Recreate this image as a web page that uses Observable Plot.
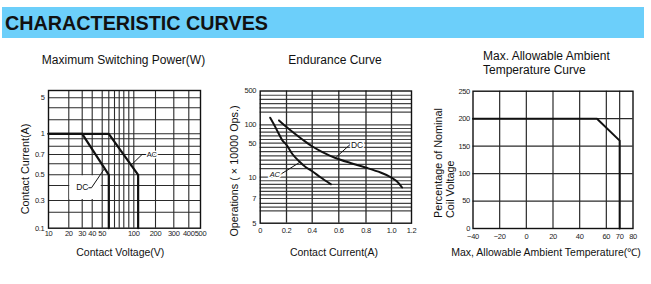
<!DOCTYPE html>
<html>
<head>
<meta charset="utf-8">
<script src="https://cdn.jsdelivr.net/npm/d3@7"></script>
<script src="https://cdn.jsdelivr.net/npm/@observablehq/plot@0.6"></script>
<style>
  html, body { margin: 0; padding: 0; background: #fff; }
  #page { position: relative; width: 651px; height: 284px; overflow: hidden;
          font-family: "Liberation Sans", Arial, sans-serif; color: #111; }
  #banner { position: absolute; left: 2px; top: 7px; width: 642px; height: 31px; background: #6ccffa; }
  #banner-text { position: absolute; left: 3px; top: 50%; transform-origin: left center;
                 font-weight: bold; font-size: 20px; line-height: 1; color: #111; white-space: nowrap; }
  .lbl { position: absolute; white-space: nowrap; line-height: 1; }
  .chart { position: absolute; }
  .chart svg { overflow: visible; }
</style>
</head>
<body>
<div id="page">
  <div id="banner"><span id="banner-text">CHARACTERISTIC CURVES</span></div>
</div>
<script>
// ---------- Maximum switching power ----------
const voltTicks = [10, 20, 30, 40, 50, 100, 200, 300, 400, 500];
const voltGrid = [20, 30, 40, 50, 60, 70, 80, 90, 95, 100, 200, 300, 400];
const currentTicks = [0.1, 0.3, 0.5, 0.7, 1, 5];
const currentGrid = [0.2, 0.3, 0.4, 0.5, 0.6, 0.7, 0.8, 0.9, 1, 2, 3, 5];
const dcVoltage = [10, 30, 60, 60];
const dcCurrent = [1, 1, 0.5, 0.1];
const acVoltage = [10, 60, 120, 120];
const acCurrent = [1, 1, 0.5, 0.1];
const dcLeaderV = [36.6, 39.3, 53.5];
const dcLeaderA = [0.385, 0.385, 0.557];
const acLeaderV = [97, 138, 156];
const acLeaderA = [0.585, 0.7, 0.7];

// ---------- Endurance ----------
const ampTicks = [0, 0.2, 0.4, 0.6, 0.8, 1.0, 1.2];
const ampGrid = [0.2, 0.4, 0.6, 0.8, 1.0];
const opsTicks = [5, 7, 10, 50, 100, 500];
const opsGrid = [450, 400, 350, 300, 250, 100, 90, 80, 70, 60, 50, 45, 40, 35, 30, 25, 20,
                 10, 9.5, 9, 8.5, 8, 7.5, 7, 6.6, 6.3, 6];
const acAmp = [0.076, 0.109, 0.139, 0.17, 0.2, 0.247, 0.296, 0.348, 0.4, 0.462, 0.541];
const acOps = [184, 98, 77, 57, 48, 37, 29, 22, 17, 10, 9.0];
const dcAmp = [0.143, 0.2, 0.258, 0.324, 0.395, 0.477, 0.575, 0.686, 0.796, 0.914, 0.992, 1.05, 1.106];
const dcOps = [152, 94, 77.7, 60, 46.7, 39.6, 32.6, 26.7, 21.4, 15.5, 10.2, 9.46, 8.55];
const dcNoteAmp = [0.583, 0.68];
const dcNoteOps = [34, 48];
const acNoteAmp = [0.301, 0.154];
const acNoteOps = [27.3, 13.3];

// ---------- Max. allowable ambient temperature ----------
const tempTicks = [-40, -20, 0, 20, 40, 60, 70, 80];
const tempGrid = [-20, 0, 20, 40, 60, 70];
const pctTicks = [0, 50, 100, 150, 200, 250];
const pctGrid = [50, 100, 150, 200];
const tempC = [-40, 53, 70, 70];
const coilPct = [200, 200, 160, 0];

// ---------- text ----------
const titles = ["Maximum Switching Power(W)", "Endurance Curve", "Max. Allowable Ambient", "Temperature Curve"];
const axisTitles = ["Contact Current(A)", "Contact Voltage(V)", "Operations ( \u00d7 10000 Ops.)",
                    "Contact Current(A)", "Percentage of Nominal", "Coil Voltage",
                    "Max, Allowable Ambient Temperature(\u2103)"];

// The printed graph paper is not evenly ruled, so the first two charts use
// piecewise scales: each knot value is pinned to its ruled line (px inside the svg).
const voltKnots = [10, 20, 30, 40, 50, 60, 70, 80, 90, 100, 200, 300, 400, 500];
const voltKnotPx = [48, 68.3, 81.7, 91.7, 101.7, 108.3, 114, 118.7, 123.3, 133.3, 155, 173.3, 188.3, 200];
const currentKnots = [0.1, 0.2, 0.3, 0.4, 0.5, 0.6, 0.7, 0.8, 0.9, 1, 2, 3, 5, 10];
const currentKnotPx = [147.7, 131.7, 120, 105, 94.3, 83.3, 74, 65.7, 58.3, 53.3, 39.3, 27.3, 17.3, 10];
const ampKnotPx = [44.7, 71, 96.7, 123.3, 150.5, 176, 196];
const opsKnots = [5, 7, 10, 50, 100, 500];
const opsKnotPx = [142.7, 118, 96.7, 62.7, 44.3, 10.5];

const page = document.getElementById("page");
const INK = "#111", GRID = "#2a2a2a";
const baseStyle = {fontFamily: "'Liberation Sans', Arial, sans-serif", fontSize: "7.5px",
                   letterSpacing: "-0.3px", color: "#222", background: "transparent"};
const fmt = d => (d < 0 ? "\u2212" + (-d) : String(d));
const pts = (xs, ys) => xs.map((x, i) => ({x, y: ys[i]}));

function mount(svg, left, top) {
  const div = document.createElement("div");
  div.className = "chart";
  div.style.left = left + "px";
  div.style.top = top + "px";
  div.appendChild(svg);
  page.appendChild(div);
}

function label(text, cx, cy, size, rotate) {
  const el = document.createElement("div");
  el.className = "lbl";
  el.textContent = text;
  el.style.left = cx + "px";
  el.style.top = cy + "px";
  el.style.fontSize = size + "px";
  el.style.transform = "translate(-50%,-50%)" + (rotate ? " rotate(-90deg)" : "");
  page.appendChild(el);
  return el;
}

// Chart 1
mount(Plot.plot({
  width: 215, height: 160,
  marginLeft: 48, marginRight: 15, marginTop: 10, marginBottom: 12.3,
  style: baseStyle,
  x: {type: "linear", domain: voltKnots, range: voltKnotPx, ticks: voltTicks, tickFormat: fmt,
      tickSize: 0, tickPadding: 2.5, label: null},
  y: {type: "linear", domain: currentKnots, range: currentKnotPx, ticks: currentTicks, tickFormat: fmt,
      tickSize: 0, tickPadding: 4, label: null},
  marks: [
    Plot.ruleX(voltGrid, {stroke: GRID, strokeWidth: 1.1}),
    Plot.ruleY(currentGrid, {stroke: GRID, strokeWidth: 1.1}),
    Plot.rect([{x1: 20, x2: 50, y1: 0.3, y2: 0.5}], {x1: "x1", x2: "x2", y1: "y1", y2: "y2", fill: "white", inset: 1}),
    Plot.line(pts(dcVoltage, dcCurrent), {x: "x", y: "y", stroke: INK, strokeWidth: 2.2}),
    Plot.line(pts(acVoltage, acCurrent), {x: "x", y: "y", stroke: INK, strokeWidth: 2.2}),
    Plot.line(pts(dcLeaderV, dcLeaderA), {x: "x", y: "y", stroke: INK, strokeWidth: 1}),
    Plot.line(pts(acLeaderV, acLeaderA), {x: "x", y: "y", stroke: INK, strokeWidth: 1}),
    Plot.text([{x: 30, y: 0.385, t: "DC"}], {x: "x", y: "y", text: "t", fontSize: 8.5, fill: INK}),
    Plot.text([{x: 160, y: 0.7, t: "AC"}], {x: "x", y: "y", text: "t", fontSize: 7.5, fill: INK,
      textAnchor: "start", stroke: "white", strokeWidth: 3, paintOrder: "stroke"}),
    Plot.frame({stroke: INK, strokeWidth: 1.4})
  ]
}), 0, 80);

// Chart 2
mount(Plot.plot({
  width: 215, height: 160,
  marginLeft: 44.7, marginRight: 19, marginTop: 10.5, marginBottom: 17.3,
  style: baseStyle,
  x: {type: "linear", domain: ampTicks, range: ampKnotPx, ticks: ampTicks,
      tickFormat: d => (d === 0 ? "0" : d.toFixed(1)), tickSize: 0, tickPadding: 4.5, label: null},
  y: {type: "linear", domain: opsKnots, range: opsKnotPx, ticks: opsTicks, tickFormat: fmt,
      tickSize: 0, tickPadding: 4, label: null},
  marks: [
    Plot.ruleY(opsGrid, {stroke: "#444", strokeWidth: 1.2}),
    Plot.ruleX(ampGrid, {stroke: GRID, strokeWidth: 1.3}),
    Plot.line(pts(acAmp, acOps), {x: "x", y: "y", stroke: INK, strokeWidth: 2, curve: "catmull-rom"}),
    Plot.line(pts(dcAmp, dcOps), {x: "x", y: "y", stroke: INK, strokeWidth: 2, curve: "catmull-rom"}),
    Plot.line(pts(dcNoteAmp, dcNoteOps), {x: "x", y: "y", stroke: INK, strokeWidth: 1}),
    Plot.line(pts(acNoteAmp, acNoteOps), {x: "x", y: "y", stroke: INK, strokeWidth: 1}),
    Plot.text([{x: 0.69, y: 48, t: "DC"}], {x: "x", y: "y", text: "t", fontSize: 8.5, fill: INK,
      textAnchor: "start", stroke: "white", strokeWidth: 3, paintOrder: "stroke"}),
    Plot.text([{x: 0.148, y: 13.3, t: "AC"}], {x: "x", y: "y", text: "t", fontSize: 7.5, fill: INK,
      textAnchor: "end", stroke: "white", strokeWidth: 3, paintOrder: "stroke", fontStyle: "italic"}),
    Plot.frame({stroke: INK, strokeWidth: 1.4})
  ]
}), 215, 80);

// Chart 3
mount(Plot.plot({
  width: 221, height: 160,
  marginLeft: 42.5, marginRight: 18.5, marginTop: 10.7, marginBottom: 12,
  style: baseStyle,
  x: {domain: [-40, 80], ticks: tempTicks, tickFormat: fmt, tickSize: 0, tickPadding: 5.5, label: null},
  y: {domain: [0, 250], ticks: pctTicks, tickFormat: fmt, tickSize: 0, tickPadding: 3, label: null},
  marks: [
    Plot.ruleX(tempGrid, {stroke: GRID, strokeWidth: 1.2}),
    Plot.ruleY(pctGrid, {stroke: GRID, strokeWidth: 1.2}),
    Plot.line(pts(tempC, coilPct), {x: "x", y: "y", stroke: INK, strokeWidth: 2}),
    Plot.frame({stroke: INK, strokeWidth: 1.4})
  ]
}), 430, 80);

// Titles and axis titles
label(titles[0], 123.5, 59.5, 12);
label(titles[1], 335, 59.5, 12);
const t3a = label(titles[2], 0, 56, 12); t3a.style.left = "483px"; t3a.style.transform = "translateY(-50%)";
const t3b = label(titles[3], 0, 69.5, 12); t3b.style.left = "483px"; t3b.style.transform = "translateY(-50%)";
label(axisTitles[0], 24.5, 169, 10.8, true);
label(axisTitles[1], 120.3, 252.3, 10.5);
label(axisTitles[2], 233.7, 170.5, 10.8, true);
label(axisTitles[3], 334, 252.3, 10.5);
label(axisTitles[6], 546, 252.3, 10.5);
// two-line rotated title, both lines starting at the same point
const yt = document.createElement("div");
yt.className = "lbl";
yt.style.cssText += "left:432.5px;top:218.3px;font-size:10.8px;line-height:11.7px;transform-origin:top left;transform:rotate(-90deg);text-align:left;";
yt.innerHTML = axisTitles[4] + "<br>" + axisTitles[5];
page.appendChild(yt);

// Fit the banner heading to its printed width
const bt = document.getElementById("banner-text");
const bw = bt.getBoundingClientRect().width;
bt.style.transform = `translateY(-50%) scaleX(${263 / bw})`;
</script>
</body>
</html>
